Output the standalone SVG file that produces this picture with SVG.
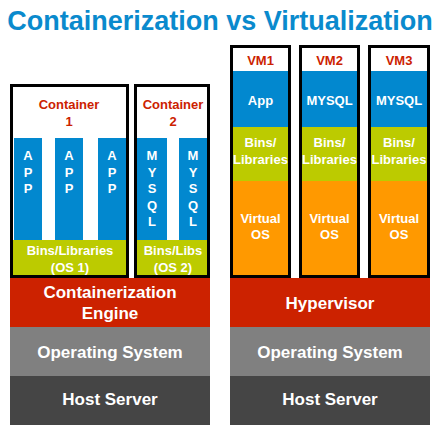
<svg xmlns="http://www.w3.org/2000/svg" width="440" height="442" viewBox="0 0 440 442">
<style>
text{font-family:"Liberation Sans",Arial,sans-serif;font-weight:bold;text-anchor:middle;fill:#fff}
.t{fill:#0a8acd;font-size:27px}
.r{fill:#cc2200;font-size:13px}
.s{font-size:13px}
.b{font-size:17px}
.blue{fill:#0288cf}.green{fill:#bccb00}.orange{fill:#ff9900}.red{fill:#cc2200}.gray{fill:#808080}.dark{fill:#454545}
.box{fill:none;stroke:#000;stroke-width:3}
</style>
<rect width="440" height="442" fill="#fff"/>
<text class="t" x="220" y="30">Containerization vs Virtualization</text>

<g id="containerization-engine"><rect class="red" x="10" y="278" width="200" height="49"/><text class="b" x="110" y="298">Containerization</text><text class="b" x="110" y="319">Engine</text></g>
<g id="os-left"><rect class="gray" x="10" y="327" width="200" height="49"/><text class="b" x="110" y="358">Operating System</text></g>
<g id="host-left"><rect class="dark" x="10" y="376" width="200" height="49"/><text class="b" x="110" y="405">Host Server</text></g>

<g id="hypervisor"><rect class="red" x="230" y="278" width="200" height="49"/><text class="b" x="330" y="309">Hypervisor</text></g>
<g id="os-right"><rect class="gray" x="230" y="327" width="200" height="49"/><text class="b" x="330" y="358">Operating System</text></g>
<g id="host-right"><rect class="dark" x="230" y="376" width="200" height="49"/><text class="b" x="330" y="405">Host Server</text></g>

<g id="container1">
<rect class="blue" x="14" y="138" width="28" height="102"/>
<rect class="blue" x="55" y="138" width="28" height="102"/>
<rect class="blue" x="98" y="138" width="28" height="102"/>
<rect class="green" x="11" y="240" width="117" height="36"/>
<rect class="box" x="11.5" y="85.5" width="116" height="191"/>
<text class="r" x="69" y="109">Container</text><text class="r" x="69" y="126">1</text>
<g class="s"><text class="s" x="28" y="160">A</text><text class="s" x="28" y="177">P</text><text class="s" x="28" y="193">P</text>
<text class="s" x="69" y="160">A</text><text class="s" x="69" y="177">P</text><text class="s" x="69" y="193">P</text>
<text class="s" x="112" y="160">A</text><text class="s" x="112" y="177">P</text><text class="s" x="112" y="193">P</text></g>
<text class="s" x="70" y="255">Bins/Libraries</text><text class="s" x="70" y="272">(OS 1)</text>
</g>

<g id="container2">
<rect class="blue" x="137" y="138" width="30" height="102"/>
<rect class="blue" x="179" y="138" width="29" height="102"/>
<rect class="green" x="135" y="240" width="74" height="36"/>
<rect class="box" x="135.5" y="85.5" width="73" height="191"/>
<text class="r" x="173" y="109">Container</text><text class="r" x="173" y="126">2</text>
<text class="s" x="152" y="160">M</text><text class="s" x="152" y="177">Y</text><text class="s" x="152" y="193">S</text><text class="s" x="152" y="210">Q</text><text class="s" x="152" y="226">L</text>
<text class="s" x="193" y="160">M</text><text class="s" x="193" y="177">Y</text><text class="s" x="193" y="193">S</text><text class="s" x="193" y="210">Q</text><text class="s" x="193" y="226">L</text>
<text class="s" x="173" y="255">Bins/Libs</text><text class="s" x="173" y="272">(OS 2)</text>
</g>

<g id="vm1">
<rect class="blue" x="231" y="71" width="59" height="56"/>
<rect class="green" x="231" y="127" width="59" height="54"/>
<rect class="orange" x="231" y="181" width="59" height="95"/>
<rect class="box" x="231.5" y="46.5" width="58" height="230"/>
<text class="r" x="260.5" y="65">VM1</text>
<text class="s" x="260.5" y="105">App</text>
<text class="s" x="260.5" y="147">Bins/</text><text class="s" x="260.5" y="164">Libraries</text>
<text class="s" x="260.5" y="223">Virtual</text><text class="s" x="260.5" y="239">OS</text>
</g>
<g id="vm2">
<rect class="blue" x="300" y="71" width="59" height="56"/>
<rect class="green" x="300" y="127" width="59" height="54"/>
<rect class="orange" x="300" y="181" width="59" height="95"/>
<rect class="box" x="300.5" y="46.5" width="58" height="230"/>
<text class="r" x="329.5" y="65">VM2</text>
<text class="s" x="329.5" y="105">MYSQL</text>
<text class="s" x="329.5" y="147">Bins/</text><text class="s" x="329.5" y="164">Libraries</text>
<text class="s" x="329.5" y="223">Virtual</text><text class="s" x="329.5" y="239">OS</text>
</g>
<g id="vm3">
<rect class="blue" x="370" y="71" width="59" height="56"/>
<rect class="green" x="370" y="127" width="59" height="54"/>
<rect class="orange" x="370" y="181" width="59" height="95"/>
<rect class="box" x="369.5" y="46.5" width="59" height="230"/>
<text class="r" x="399" y="65">VM3</text>
<text class="s" x="399" y="105">MYSQL</text>
<text class="s" x="399" y="147">Bins/</text><text class="s" x="399" y="164">Libraries</text>
<text class="s" x="399" y="223">Virtual</text><text class="s" x="399" y="239">OS</text>
</g>
<g id="connectors"/>
</svg>
